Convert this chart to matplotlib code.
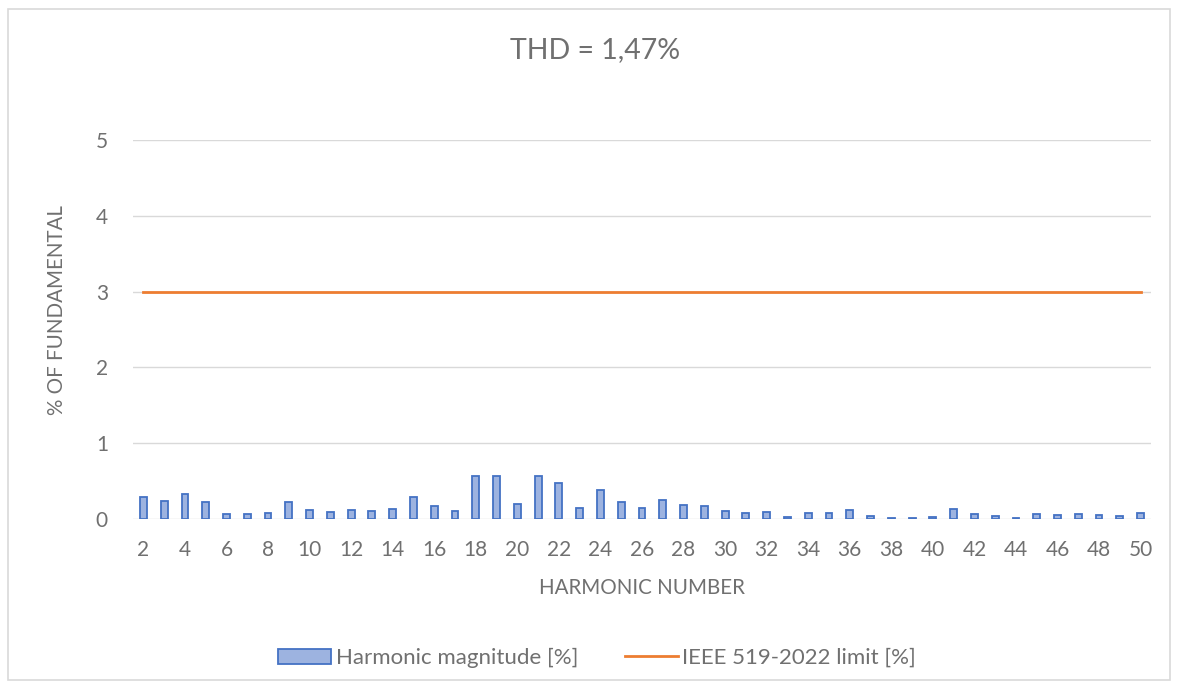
import matplotlib
matplotlib.use("Agg")
import matplotlib.pyplot as plt
from matplotlib.patches import Rectangle, Patch
from matplotlib.lines import Line2D

plt.rcParams['font.family'] = ['Lato', 'DejaVu Sans']

harmonics = list(range(2, 51))
magnitude = [0.286, 0.24, 0.335, 0.22, 0.07, 0.07, 0.08, 0.23, 0.115, 0.09,
             0.12, 0.105, 0.13, 0.295, 0.17, 0.105, 0.565, 0.565, 0.195, 0.565,
             0.48, 0.14, 0.385, 0.22, 0.14, 0.245, 0.185, 0.17, 0.11, 0.08,
             0.095, 0.02, 0.075, 0.08, 0.115, 0.04, 0.01, 0.015, 0.025, 0.13,
             0.07, 0.045, 0.015, 0.06, 0.05, 0.06, 0.05, 0.035, 0.075]
limit = [3.0] * len(harmonics)
tick_labels = [str(h) for h in harmonics[::2]]
title = "THD = 1,47%"

W, H = 1179, 688
fig = plt.figure(figsize=(W / 100, H / 100), dpi=100)
fig.patch.set_facecolor('white')

# outer chart frame
fig.add_artist(Rectangle((8 / W, 1 - 680 / H), (1170 - 8) / W, (680 - 9) / H,
                         transform=fig.transFigure, fill=False,
                         edgecolor='#D9D9D9', linewidth=1.2))

ax = fig.add_axes([133 / W, 1 - 519 / H, (1151 - 133) / W, (519 - 140) / H])

grid_c = '#D9D9D9'
text_c = '#707070'
bar_fill = '#9DB3E0'
bar_edge = '#4472C4'
line_c = '#ED7D31'

ax.bar(harmonics, magnitude, width=0.33, color=bar_fill, edgecolor=bar_edge,
       linewidth=1.3, zorder=3)
ax.plot(harmonics, limit, color=line_c, linewidth=2.0, zorder=4)

ax.set_xlim(1.5, 50.5)
ax.set_ylim(0, 5)
ax.set_yticks(range(0, 6))
ax.set_xticks(harmonics[::2])
ax.set_xticklabels(tick_labels)
for y in range(0, 6):
    ax.axhline(y, color=grid_c, linewidth=1.0, zorder=1)

for s in ax.spines.values():
    s.set_visible(False)
ax.tick_params(axis='both', length=0, colors=text_c, labelsize=15)
ax.tick_params(axis='x', pad=15)
ax.tick_params(axis='y', pad=18)

ax.set_xlabel("HARMONIC NUMBER", color=text_c, fontsize=14.8)
ax.xaxis.label.set_va('center')
ax.xaxis.set_label_coords(0.5, (519 - 588) / 379)
ax.set_ylabel("% OF FUNDAMENTAL", color=text_c, fontsize=14.8)
ax.yaxis.label.set_va('center')
ax.yaxis.set_label_coords((57 - 133) / 1018, (519 - 310) / 379)

fig.text(595 / W, 1 - 50 / H, title, ha='center', va='center',
         fontsize=20.5, color=text_c)

handles = [Patch(facecolor=bar_fill, edgecolor=bar_edge, linewidth=1.3),
           Line2D([0], [0], color=line_c, linewidth=2.0)]
fig.legend(handles, ["Harmonic magnitude [%]", "IEEE 519-2022 limit [%]"],
           loc='center', bbox_to_anchor=(597 / W, 1 - 658 / H), ncol=2,
           frameon=False, fontsize=16, labelcolor=text_c,
           handlelength=2.4, handletextpad=0.2, columnspacing=2.1)

fig.savefig("out.png", dpi=100, facecolor='white')
